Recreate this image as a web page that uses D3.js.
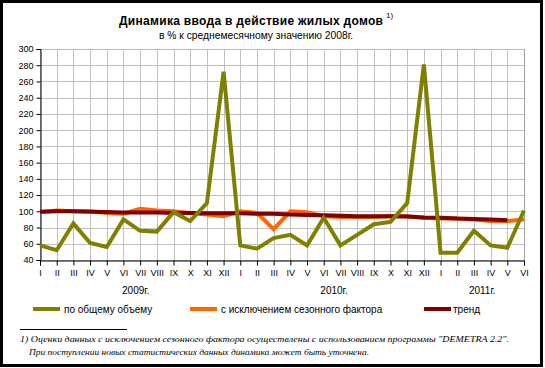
<!DOCTYPE html>
<html><head><meta charset="utf-8">
<script src="https://cdn.jsdelivr.net/npm/d3@7"></script>
<style>body{margin:0;background:#fff}svg{display:block}</style>
</head><body>
<script>
const months = ["I","II","III","IV","V","VI","VII","VIII","IX","X","XI","XII",
  "I","II","III","IV","V","VI","VII","VIII","IX","X","XI","XII",
  "I","II","III","IV","V","VI"];
const years = [{label:"2009г.", from:0, to:11},{label:"2010г.", from:12, to:23},{label:"2011г.", from:24, to:29}];
const total = [58,52,85,61,56,90,76,75,99,88,110,272,58,54,67,71,58,92,58,71,84,87,110,281,49,49,76,58,55,101];
const seasonal = [99,101,100,100,98,97,103,101,100,98,96,94,100,98,78,100,99,94,93,93,93,94,94,92,91,91,90,88,88,90];
const trend = [99.5,100,100,99.5,99,98.5,98.5,98.5,98,98,97.5,97.5,97.5,97,97,96,95.5,95,94.5,94,94,94,93.5,92.5,92,91,90.5,90,89,null];
const yTicks = d3.range(40, 301, 20);
const seriesNames = ["по общему объему","с исключением сезонного фактора","тренд"];
const colors = ["#808000","#ff6600","#800000"];

const W=545,H=368;
const svg=d3.select("body").append("svg").attr("width",W).attr("height",H);
svg.append("rect").attr("x",0).attr("y",0).attr("width",W).attr("height",H).attr("fill","#fff");
const F="Liberation Sans, Arial, sans-serif";

const x=d3.scalePoint().domain(d3.range(months.length)).range([40,524]);
const y=d3.scaleLinear().domain([40,300]).range([260,49]);

// grid
const g=svg.append("g");
g.selectAll(".hg").data(yTicks).enter().append("line")
 .attr("x1",40).attr("x2",524).attr("y1",d=>Math.round(y(d))+0.5).attr("y2",d=>Math.round(y(d))+0.5)
 .attr("stroke","#c0c0c0").attr("stroke-width",1);
g.selectAll(".vg").data(d3.range(months.length)).enter().append("line")
 .attr("x1",d=>Math.round(x(d))+0.5).attr("x2",d=>Math.round(x(d))+0.5).attr("y1",49).attr("y2",260)
 .attr("stroke","#c0c0c0").attr("stroke-width",1);
g.append("line").attr("x1",524.5).attr("x2",524.5).attr("y1",49).attr("y2",260).attr("stroke","#a0a0a0");

// axes
const yAxis=d3.axisLeft(y).tickValues(yTicks).tickSize(4).tickPadding(3);
const ya=svg.append("g").attr("transform","translate(40.5,0)").call(yAxis);
ya.select(".domain").attr("stroke","#000");
ya.selectAll("text").attr("font-family",F).attr("font-size",9).attr("fill","#000");
const xAxis=d3.axisBottom(x).tickSize(5).tickPadding(4).tickFormat(i=>months[i]);
const xa=svg.append("g").attr("transform","translate(0,260.5)").call(xAxis);
xa.select(".domain").attr("stroke","#000");
xa.selectAll("text").attr("font-family",F).attr("font-size",9).attr("fill","#000");

// lines
const line=d3.line().defined(d=>d!=null).x((d,i)=>x(i)).y(d=>y(d));
[[seasonal,1],[trend,2],[total,0]].forEach(([data,ci])=>{
  svg.append("path").attr("d",line(data)).attr("fill","none").attr("stroke",colors[ci])
   .attr("stroke-width",4).attr("stroke-linejoin","miter");
});

// year labels
const yrOff=[4,2,0];
svg.selectAll(".yr").data(years).enter().append("text")
 .attr("x",(d,i)=>(x(d.from)+x(d.to))/2+yrOff[i]).attr("y",294).attr("text-anchor","middle")
 .attr("font-family",F).attr("font-size",10).text(d=>d.label);

// legend
const lg=[{x:33,tx:64},{x:190,tx:221},{x:424,tx:453}];
lg.forEach((p,i)=>{
  svg.append("line").attr("x1",p.x).attr("x2",p.x+27).attr("y1",309).attr("y2",309)
   .attr("stroke",colors[i]).attr("stroke-width",4);
  svg.append("text").attr("x",p.tx).attr("y",313).attr("font-family",F).attr("font-size",10).text(seriesNames[i]);
});

// title
svg.append("text").attr("x",119).attr("y",25)
 .attr("font-family",F).attr("font-size",12).attr("font-weight","bold")
 .attr("textLength",264).attr("lengthAdjust","spacing").text("Динамика ввода в действие жилых домов");
svg.append("text").attr("x",386).attr("y",18).attr("font-family",F).attr("font-size",8).text("1)");
svg.append("text").attr("x",159).attr("y",39)
 .attr("font-family",F).attr("font-size",10).attr("textLength",194).attr("lengthAdjust","spacingAndGlyphs")
 .text("в % к среднемесячному значению 2008г.");

// footnote
svg.append("line").attr("x1",20).attr("x2",127).attr("y1",329.5).attr("y2",329.5).attr("stroke","#000");
svg.append("text").attr("x",20).attr("y",342).attr("font-family","Liberation Serif, serif").attr("font-style","italic")
 .attr("font-size",9).attr("textLength",489).attr("lengthAdjust","spacingAndGlyphs")
 .text("1) Оценки  данных с  исключением  сезонного  фактора  осуществлены с использованием программы \"DEMETRA 2.2\".");
svg.append("text").attr("x",29).attr("y",355).attr("font-family","Liberation Serif, serif").attr("font-style","italic")
 .attr("font-size",9).attr("textLength",340).attr("lengthAdjust","spacingAndGlyphs")
 .text("При поступлении новых статистических данных динамика может быть уточнена.");

// frame
svg.append("rect").attr("x",1.5).attr("y",1.5).attr("width",540).attr("height",364)
 .attr("fill","none").attr("stroke","#000").attr("stroke-width",3);
</script>
</body></html>
